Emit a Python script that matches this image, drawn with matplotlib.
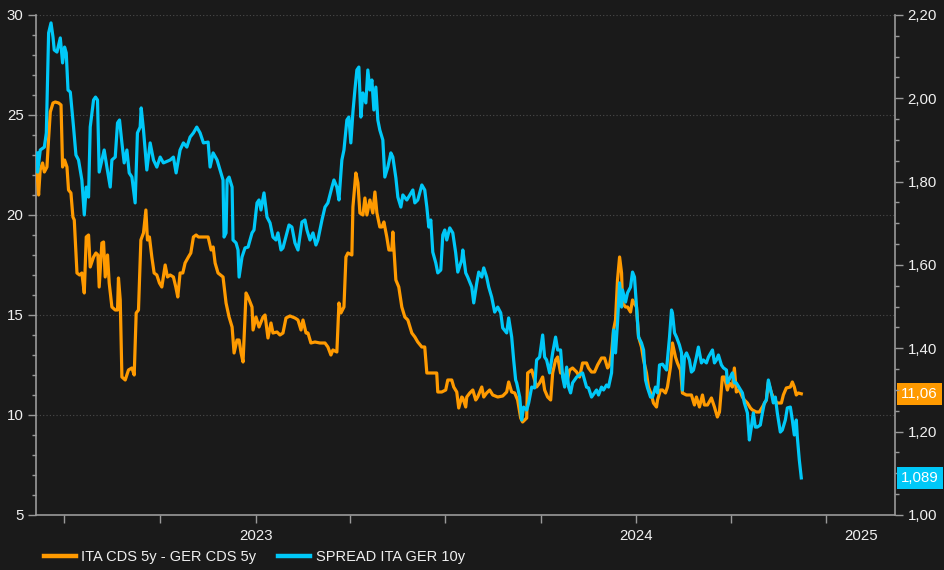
import numpy as np
import pandas as pd
import matplotlib
matplotlib.use("Agg")
import matplotlib.pyplot as plt
import matplotlib.transforms as mtrans
from matplotlib.lines import Line2D
from matplotlib.ticker import MultipleLocator, FuncFormatter

# ---------------- data ----------------
origin = "2022-06-01"

cds_label = "ITA CDS 5y - GER CDS 5y"
spread_label = "SPREAD ITA GER 10y"

cds_days = [
    4, 5.5, 7, 9.3, 11, 13.5, 15, 16.7, 19.3, 21.5,
    24.7, 27, 28.5, 30.4, 32.7, 34.2, 36.5, 38.4, 39.7, 42.3,
    44.8, 47, 49.3, 51.2, 53.4, 55, 58.2, 60.5, 62.4, 63.6,
    66.2, 67.8, 69.4, 71.6, 73.2, 75.8, 79, 81.2, 82.1, 83.8,
    85.4, 88.6, 91.7, 95, 97.2, 99.1, 101.3, 103.6, 106.1, 108.4,
    109.9, 111.8, 114.1, 116.3, 118.9, 121.4, 123.7, 126.9, 129.1, 131.7,
    134.8, 137.1, 139, 141.2, 143.8, 146, 149.2, 151.5, 154, 156.6,
    158.8, 160.4, 168.1, 171, 172.9, 174.8, 177.6, 182.4, 185.3, 188.2,
    191.1, 193, 195.8, 197.8, 199.7, 201.6, 204.5, 206.4, 210.2, 211.2,
    214, 216.9, 220.8, 222.7, 225.5, 228.4, 230.3, 234.2, 237, 239.9,
    242.8, 246.6, 251.4, 254.3, 257.2, 259.1, 262, 263.9, 266.7, 270.6,
    275.4, 280.2, 283, 285.9, 287.8, 291.6, 293.6, 295.5, 298.4, 300.3,
    302.2, 306, 307, 309.8, 311.8, 313.7, 316.6, 318.5, 320.4, 323.3,
    326.1, 328.1, 330, 332.8, 334.8, 336.7, 339.5, 341.5, 344.3, 345.3,
    348.2, 351, 353.9, 356.8, 359.7, 363.5, 366.4, 369.2, 373.1, 375.9,
    377.9, 382.7, 387.4, 388.4, 392.2, 396, 398, 401.8, 403.7, 406.6,
    408.5, 411.4, 412.4, 415.2, 416.2, 419.1, 422, 424.8, 426.7, 430.6,
    432.5, 435.3, 438.2, 441.1, 445.9, 450.7, 454.5, 456.4, 459.3, 462.2,
    465, 467.9, 469.8, 473.7, 474.6, 478.5, 480.4, 483.2, 486.1, 489,
    490.9, 493.8, 496.7, 498.6, 501.4, 503.4, 506.2, 508.2, 512, 514.9,
    517.7, 521.6, 524.4, 527.3, 531.1, 533, 535.9, 538.8, 541.7, 545.5,
    548.4, 551.3, 553.2, 555.1, 557, 558.9, 560.8, 562.8, 564.7, 565.6,
    568.5, 570.4, 573.3, 575.2, 579, 581, 583.8, 585.8, 588.6, 590.5,
    593.4, 595.3, 598.2, 599.2, 602, 604, 606.8, 608.7, 611.6, 613.5,
    616.4, 618.3, 621.2, 623.1, 626.9, 629.8, 631.7, 634.6, 636.5, 639.4,
    642.3, 644.2, 647.1, 650.9, 653.8, 656.6, 658.6, 661.4, 663.4, 666.2,
    668.1, 671, 672.9, 674.8, 677.7, 680.6, 682.5, 685.4, 688.3, 690.2,
    694, 696.9, 699.8, 703.6, 705.5, 708.4, 711.3, 714.1, 718, 719.9,
    722.7, 726.6, 728.5, 730.4, 732.3, 734.2, 737.1,
]
cds_values = [
    22.1, 21.0, 22.25, 22.6, 22.15, 22.4, 23.75, 25.15, 25.6, 25.65,
    25.6, 25.5, 22.4, 22.75, 22.4, 21.25, 21.1, 19.9, 19.75, 17.1,
    17.0, 17.1, 16.1, 18.9, 19.0, 17.4, 17.9, 18.1, 18.0, 16.4,
    18.6, 18.65, 16.9, 18.0, 16.6, 15.4, 15.25, 15.25, 16.85, 15.75,
    11.9, 11.75, 12.25, 12.35, 12.0, 15.1, 15.25, 18.75, 19.1, 20.25,
    18.75, 18.9, 17.9, 17.1, 17.0, 16.6, 16.4, 17.5, 16.9, 17.0,
    16.9, 16.4, 15.9, 17.1, 17.1, 17.6, 17.9, 18.1, 18.9, 19.0,
    18.9, 18.9, 18.9, 18.25, 18.4, 17.6, 17.1, 16.9, 15.6, 14.9,
    14.4, 13.1, 13.75, 13.75, 13.1, 12.65, 16.1, 15.9, 15.4, 14.25,
    14.9, 14.4, 14.9, 15.0, 13.85, 14.6, 14.1, 14.15, 14.0, 14.1,
    14.85, 14.95, 14.85, 14.75, 14.25, 14.75, 14.1, 14.1, 13.6, 13.65,
    13.6, 13.6, 13.4, 13.0, 13.25, 13.15, 15.6, 15.1, 15.4, 17.9,
    18.1, 18.0, 20.4, 22.1, 21.6, 20.1, 20.0, 20.85, 20.0, 20.75,
    20.1, 21.15, 20.1, 19.4, 19.4, 19.65, 18.9, 18.25, 18.25, 19.15,
    16.75, 16.4, 15.4, 14.9, 14.75, 14.1, 13.9, 13.65, 13.4, 13.4,
    12.1, 12.1, 12.1, 11.15, 11.15, 11.25, 11.75, 11.75, 11.4, 11.15,
    10.35, 10.9, 10.85, 10.4, 10.9, 11.1, 11.25, 10.75, 10.9, 11.4,
    10.9, 11.1, 11.25, 11.0, 10.9, 10.95, 11.15, 11.65, 11.15, 11.1,
    10.75, 9.85, 9.65, 9.85, 12.1, 12.25, 11.9, 11.4, 11.6, 11.9,
    11.25, 10.9, 10.75, 12.1, 12.75, 12.9, 12.1, 12.1, 11.6, 12.25,
    12.35, 12.15, 11.9, 12.6, 12.6, 12.35, 12.15, 12.15, 12.5, 12.85,
    12.85, 12.35, 12.5, 13.1, 14.25, 14.75, 16.75, 17.9, 17.1, 15.6,
    15.4, 15.4, 15.15, 15.75, 15.4, 13.9, 13.4, 12.75, 12.1, 11.4,
    11.0, 10.6, 10.4, 10.75, 11.25, 11.25, 11.1, 11.4, 12.4, 13.6,
    12.9, 12.6, 12.25, 11.1, 11.0, 11.0, 11.0, 10.5, 10.9, 10.4,
    11.0, 10.5, 10.5, 10.85, 10.4, 9.9, 10.15, 11.9, 11.9, 11.25,
    11.6, 11.4, 12.35, 11.15, 11.25, 10.9, 10.75, 10.6, 10.35, 10.25,
    10.15, 10.15, 10.4, 10.75, 11.65, 11.1, 10.75, 10.6, 10.6, 11.0,
    11.35, 11.4, 11.65, 11.4, 11.0, 11.1, 11.06,
]

spread_days = [
    4, 4.5, 7.1, 11, 12.9, 15.1, 17.4, 19.3, 20.5, 23.1,
    26.3, 28.5, 30.4, 32, 33.7, 35.9, 39, 41.3, 43.8, 47,
    49.3, 51.2, 53.4, 55, 58.2, 60.1, 62, 63.6, 66.2, 68.4,
    71, 74.2, 75.8, 79, 81.2, 83.1, 85.4, 87.6, 90.2, 92.4,
    95, 98.1, 100.3, 102.9, 103.9, 106.1, 109.3, 112.5, 115.7, 118.9,
    122.1, 125.2, 131.7, 134.8, 137.4, 141.2, 144.4, 147.7, 150.8, 154,
    157.2, 160.4, 163.6, 168.1, 170, 172.9, 176.7, 179.6, 182.4, 183.4,
    185.3, 186.3, 188.2, 191.1, 192, 194.9, 196.8, 197.8, 200.6, 203.5,
    206.4, 210.2, 212.1, 215, 216.9, 218.8, 221.7, 224.6, 227.5, 230.3,
    233.2, 235.1, 238, 239.9, 243.7, 245.7, 248.5, 251.4, 254.3, 258.1,
    261, 262.9, 265.8, 268.7, 271.5, 273.4, 277.3, 280.2, 283, 286.9,
    288.8, 291.6, 293.6, 296.4, 298.4, 301.2, 303.1, 305, 307, 308.9,
    310.8, 312.7, 314.6, 316.6, 319.4, 321.3, 323.3, 325.2, 327.1, 329,
    330.9, 332.8, 335.7, 337.6, 340.5, 343.4, 345.3, 348.2, 350.1, 353,
    354.9, 358.7, 361.6, 364.5, 366.4, 369.2, 373.1, 375.9, 377.9, 379.8,
    381.7, 383.6, 386.5, 388.4, 391.3, 393.2, 395.1, 397, 399.9, 402.8,
    405.6, 407.6, 411.4, 412.4, 415.2, 417.1, 421, 422.9, 425.8, 427.7,
    430.6, 432.5, 435.3, 437.3, 440.1, 443, 445.9, 448.8, 450.7, 454.5,
    456.4, 459.3, 461.2, 463.1, 464.1, 467, 468.9, 470.8, 473.7, 475.6,
    478.5, 481.3, 483.2, 486.1, 489, 490.9, 492.8, 495.7, 498.6, 501.4,
    503.4, 506.2, 508.2, 510.1, 512, 513.9, 515.8, 517.7, 521.6, 524.4,
    527.3, 531.1, 533, 535.9, 538.8, 540.7, 542.6, 545.5, 547.4, 550.3,
    552.2, 555.1, 557, 558.9, 560.8, 562.8, 564.7, 565.6, 568.5, 570.4,
    573.3, 575.2, 577.1, 579, 581, 583.8, 585.8, 587.7, 589.6, 592.5,
    594.4, 597.2, 599.2, 601.1, 604, 605.9, 607.8, 610.7, 612.6, 613.5,
    615.5, 617.4, 620.2, 622.2, 623.1, 625, 627, 629.8, 631.7, 633.7,
    636.5, 638.4, 641.3, 643.2, 646.1, 648, 651.9, 653.8, 655.7, 657.6,
    660.5, 662.4, 665.3, 666.2, 669.1, 671, 672.9, 674.8, 677.7, 680.6,
    682.5, 685.4, 687.3, 689.2, 691.1, 693, 694.9, 697.8, 699.8, 701.7,
    703.6, 705.5, 708.4, 710.3, 712.2, 714.1, 717, 718.9, 721.8, 723.7,
    726.6, 728.5, 730.4, 732.3, 733.3, 735.2, 737.1,
]
spread_values = [
    1.869, 1.823, 1.876, 1.883, 1.917, 2.157, 2.181, 2.147, 2.116, 2.111,
    2.145, 2.085, 2.123, 2.109, 2.020, 2.015, 1.931, 1.864, 1.852, 1.804,
    1.720, 1.787, 1.763, 1.931, 1.996, 2.003, 1.996, 1.823, 1.852, 1.876,
    1.835, 1.787, 1.852, 1.859, 1.941, 1.948, 1.893, 1.845, 1.876, 1.821,
    1.811, 1.749, 1.917, 1.931, 1.977, 1.924, 1.828, 1.893, 1.852, 1.835,
    1.859, 1.845, 1.852, 1.859, 1.821, 1.876, 1.893, 1.883, 1.907, 1.917,
    1.931, 1.917, 1.893, 1.895, 1.835, 1.869, 1.852, 1.828, 1.804, 1.667,
    1.677, 1.804, 1.811, 1.787, 1.660, 1.653, 1.636, 1.571, 1.619, 1.641,
    1.643, 1.677, 1.684, 1.749, 1.756, 1.732, 1.773, 1.715, 1.701, 1.667,
    1.660, 1.677, 1.636, 1.641, 1.677, 1.696, 1.691, 1.653, 1.636, 1.703,
    1.708, 1.684, 1.660, 1.677, 1.648, 1.660, 1.708, 1.739, 1.749, 1.787,
    1.804, 1.787, 1.756, 1.852, 1.876, 1.948, 1.955, 1.893, 1.967, 2.020,
    2.068, 2.075, 1.955, 2.013, 1.989, 2.068, 2.020, 2.044, 1.972, 2.027,
    1.948, 1.924, 1.900, 1.811, 1.835, 1.869, 1.859, 1.809, 1.763, 1.739,
    1.768, 1.756, 1.768, 1.780, 1.749, 1.756, 1.792, 1.780, 1.739, 1.691,
    1.708, 1.631, 1.605, 1.581, 1.588, 1.672, 1.684, 1.660, 1.689, 1.677,
    1.629, 1.583, 1.612, 1.636, 1.581, 1.571, 1.547, 1.509, 1.557, 1.583,
    1.571, 1.593, 1.571, 1.547, 1.523, 1.487, 1.499, 1.485, 1.449, 1.437,
    1.473, 1.427, 1.372, 1.324, 1.317, 1.283, 1.228, 1.259, 1.252, 1.269,
    1.307, 1.305, 1.372, 1.379, 1.432, 1.379, 1.372, 1.341, 1.389, 1.427,
    1.396, 1.396, 1.331, 1.307, 1.355, 1.307, 1.293, 1.317, 1.331, 1.336,
    1.341, 1.307, 1.305, 1.283, 1.293, 1.300, 1.288, 1.307, 1.300, 1.312,
    1.307, 1.341, 1.444, 1.389, 1.461, 1.557, 1.499, 1.540, 1.511, 1.533,
    1.547, 1.583, 1.571, 1.499, 1.427, 1.413, 1.396, 1.324, 1.305, 1.283,
    1.283, 1.307, 1.293, 1.360, 1.362, 1.355, 1.348, 1.427, 1.492, 1.485,
    1.437, 1.427, 1.408, 1.389, 1.300, 1.379, 1.389, 1.372, 1.343, 1.348,
    1.379, 1.403, 1.365, 1.372, 1.365, 1.379, 1.396, 1.365, 1.372, 1.384,
    1.360, 1.353, 1.348, 1.317, 1.331, 1.341, 1.317, 1.317, 1.305, 1.293,
    1.269, 1.245, 1.180, 1.211, 1.245, 1.211, 1.211, 1.216, 1.245, 1.269,
    1.276, 1.324, 1.293, 1.269, 1.283, 1.245, 1.199, 1.204, 1.228, 1.257,
    1.259, 1.228, 1.192, 1.228, 1.187, 1.132, 1.089,
]

cds_last_label = "11,06"
spread_last_label = "1,089"

quarter_ticks = ["2022-07-01", "2022-10-01", "2023-01-01", "2023-04-01", "2023-07-01",
                 "2023-10-01", "2024-01-01", "2024-04-01", "2024-07-01"]
quarter_labels = ["", "", "2023", "", "", "", "2024", "", ""]
extra_tick = "2024-08-03"
extra_label = "2025"
x_start, x_end = "2022-06-04", "2024-09-05"

# ---------------- style ----------------
BG = "#1a1a1a"
ORANGE = "#ff9a00"
BLUE = "#00c8f8"
SPINE = "#9a9a9a"
TXT = "#f0f0f0"
plt.rcParams["font.family"] = ["Liberation Sans", "DejaVu Sans"]

n1 = min(len(cds_days), len(cds_values))
n2 = min(len(spread_days), len(spread_values))
o = pd.Timestamp(origin)
cds_x = o + pd.to_timedelta(np.array(cds_days[:n1]), unit="D")
spr_x = o + pd.to_timedelta(np.array(spread_days[:n2]), unit="D")

fig = plt.figure(figsize=(9.45, 5.7), dpi=100, facecolor=BG)
ax = fig.add_axes([0.0381, 0.0965, 0.9090, 0.8772])
ax.set_facecolor(BG)
ax2 = ax.twinx()

ax.plot(cds_x, cds_values[:n1], color=ORANGE, lw=2.3, solid_joinstyle="round", zorder=3)
ax2.plot(spr_x, spread_values[:n2], color=BLUE, lw=2.3, solid_joinstyle="round", zorder=3)

ax.set_ylim(5, 30)
ax2.set_ylim(1.0, 2.2)
ax.set_xlim(pd.Timestamp(x_start), pd.Timestamp(x_end))

for a in (ax, ax2):
    a.spines["top"].set_visible(False)
    for s in ("left", "right", "bottom"):
        a.spines[s].set_color(SPINE)
        a.spines[s].set_linewidth(1.2)
ax.spines["right"].set_visible(False)
ax2.spines["left"].set_visible(False)
ax2.spines["bottom"].set_visible(False)

ax.yaxis.set_major_locator(MultipleLocator(5))
ax.yaxis.set_minor_locator(MultipleLocator(1))
ax.tick_params(axis="y", which="major", length=6, width=1, color=SPINE,
               labelcolor=TXT, labelsize=10.8, pad=3)
ax.tick_params(axis="y", which="minor", length=3, width=1, color=SPINE)

ax2.yaxis.set_major_locator(MultipleLocator(0.2))
ax2.yaxis.set_minor_locator(MultipleLocator(0.05))
ax2.yaxis.set_major_formatter(FuncFormatter(lambda v, p: f"{v:.2f}".replace(".", ",")))
ax2.tick_params(axis="y", which="major", length=6, width=1, color=SPINE,
                labelcolor=TXT, labelsize=10.8, pad=3)
ax2.tick_params(axis="y", which="minor", length=3, width=1, color=SPINE)

ax.set_xticks(pd.to_datetime(quarter_ticks), labels=quarter_labels)
ax.set_xticks(pd.to_datetime([extra_tick]), labels=[extra_label], minor=True)
ax.tick_params(axis="x", which="major", length=6, width=1, color=SPINE,
               labelcolor=TXT, labelsize=10.8, pad=4)
ax.tick_params(axis="x", which="minor", length=0, labelcolor=TXT, labelsize=10.8, pad=10)

ax.grid(axis="y", which="major", color="#4a4a4a", linestyle=(0, (1, 2)), linewidth=0.8)
ax.set_axisbelow(True)

# last-value boxes
tr = mtrans.blended_transform_factory(ax2.transAxes, ax2.transData)
ax2.annotate(spread_last_label, xy=(1.0, spread_values[n2 - 1]), xycoords=tr,
             xytext=(4.2, 0), textcoords="offset points", ha="left", va="center",
             color="white", fontsize=10.8, annotation_clip=False,
             bbox=dict(boxstyle="square,pad=0.28", fc=BLUE, ec="none"))
tr1 = mtrans.blended_transform_factory(ax.transAxes, ax.transData)
ax.annotate(cds_last_label, xy=(1.0, cds_values[n1 - 1]), xycoords=tr1,
            xytext=(4.2, 0), textcoords="offset points", ha="left", va="center",
            color="white", fontsize=10.8, annotation_clip=False, zorder=10,
            bbox=dict(boxstyle="square,pad=0.28", fc=ORANGE, ec="none"))

handles = [Line2D([], [], color=ORANGE, lw=3.2), Line2D([], [], color=BLUE, lw=3.2)]
fig.legend(handles, [cds_label, spread_label], loc="lower left",
           bbox_to_anchor=(0.033, -0.012), ncol=2, frameon=False,
           handlelength=2.15, handletextpad=0.4, columnspacing=1.5,
           labelcolor=TXT, fontsize=10.5)

fig.savefig("out.png", dpi=100, facecolor=BG)
